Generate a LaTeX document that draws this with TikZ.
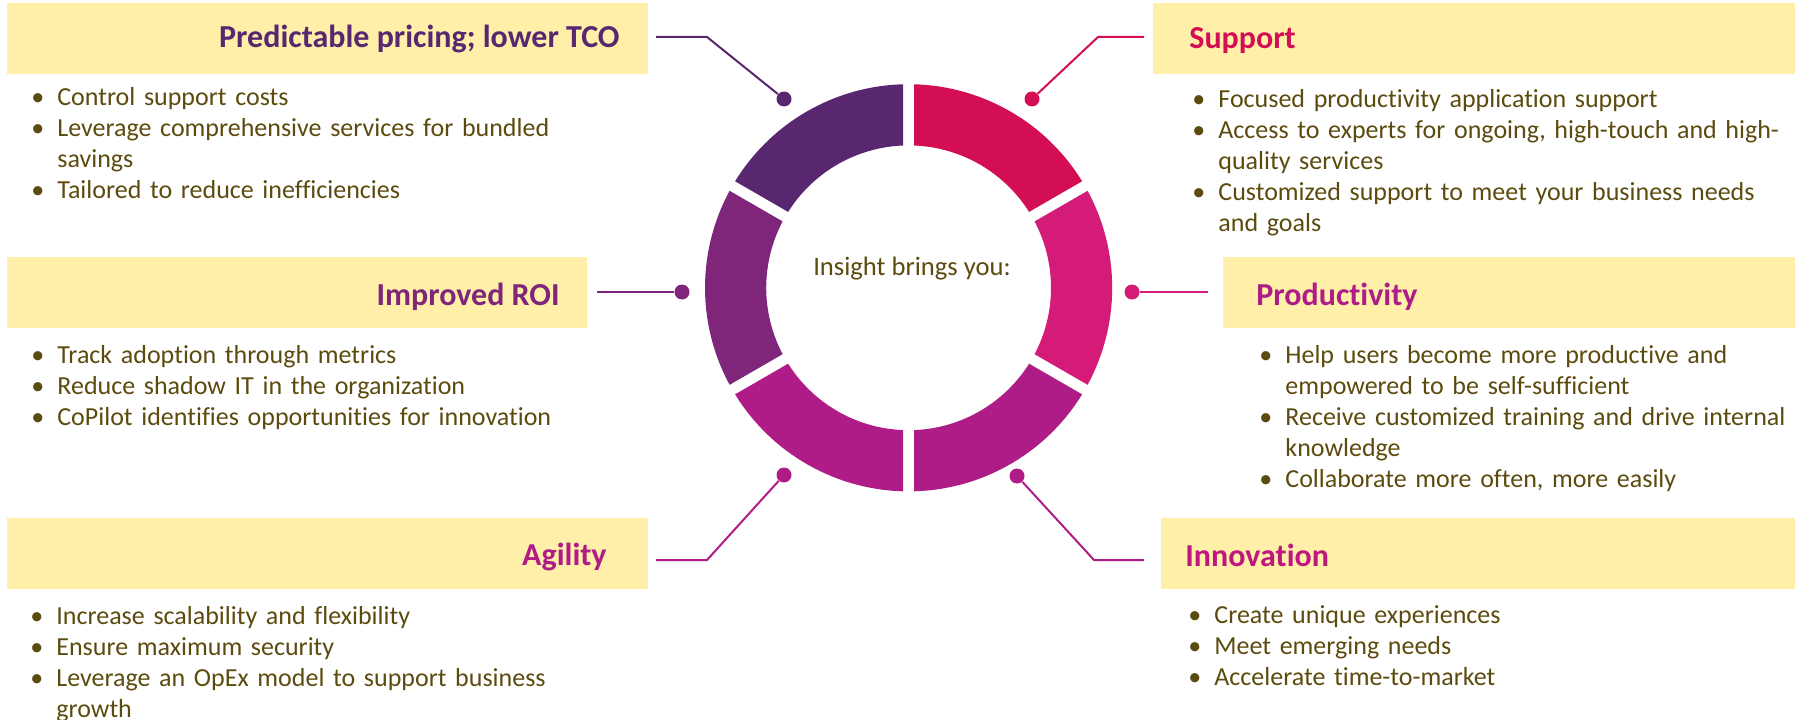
\documentclass[tikz,border=0pt]{standalone}
\usepackage{fontspec}
\setmainfont{Carlito}[Ligatures=NoCommon]
\usepackage{xcolor}

\definecolor{bandyellow}{HTML}{FFEFA8}
\definecolor{bodytext}{HTML}{5C4B0E}
\definecolor{tlc}{HTML}{58276F}
\definecolor{trc}{HTML}{D40E55}
\definecolor{rc}{HTML}{D31B77}
\definecolor{brc}{HTML}{AE1D87}
\definecolor{blc}{HTML}{AF1C88}
\definecolor{lc}{HTML}{80267A}
\definecolor{innoc}{HTML}{BE177F}

\newcommand{\itm}[1]{\noindent\hangindent=13pt\hangafter=1\makebox[13pt][l]{\textbullet}\strut#1\par}

\tikzset{
  band/.style={fill=bandyellow, inner sep=0pt, minimum height=35.5pt, anchor=south west},
  headline/.style={text=#1, font=\fontsize{16}{19}\selectfont\bfseries, inner sep=0pt},
  blist/.style={text=bodytext, font=\fontsize{13}{15.5}\selectfont, inner sep=0pt,
    text width=300pt, align=left, anchor=north west, yshift=10.8pt},
  knob/.style={circle, fill=#1, inner sep=0pt, minimum size=7.5pt},
  wire/.style={draw=#1, line width=1pt}
}

\begin{document}
\begin{tikzpicture}[x=1pt,y=1pt]
\useasboundingbox (0,0) rectangle (898.5,359.5);

% ring
\begin{scope}[shift={(454.3,215.6)}]
\foreach \a/\c in {90/tlc, 30/trc, -30/rc, -90/brc, -150/blc, 150/lc} {
  \fill[\c] (\a+1.55:101.8pt) arc[start angle=\a+1.55, end angle=\a+58.45, radius=101.8pt]
    -- (\a+57.79:71.2pt) arc[start angle=\a+57.79, end angle=\a+2.21, radius=71.2pt] -- cycle;
}
\end{scope}
\node[text=bodytext, font=\fontsize{13.3}{16}\selectfont, inner sep=0pt, anchor=base] (hub) at (456,222) {Insight brings you:};

% boxes
\node[band, minimum width=320.5pt] (bTL) at (3.5,322.5) {};
\node[band, minimum width=321pt] (bTR) at (576.5,322.5) {};
\node[band, minimum width=290pt] (bL) at (3.5,195.5) {};
\node[band, minimum width=286pt] (bR) at (611.5,195.5) {};
\node[band, minimum width=320.5pt] (bBL) at (3.5,65) {};
\node[band, minimum width=317pt] (bBR) at (580.5,65) {};

% titles
\node[headline=tlc, anchor=base east] (tTL) at (310,335.5) {Predictable pricing; lower TCO};
\node[headline=trc, anchor=base west] (tTR) at (594.5,335) {Support};
\node[headline=lc, anchor=base east] (tL) at (280,207) {Improved ROI};
\node[headline=brc, anchor=base west] (tR) at (628,207) {Productivity};
\node[headline=blc, anchor=base east] (tBL) at (303.5,77) {Agility};
\node[headline=innoc, anchor=base west] (tBR) at (592.5,76.5) {Innovation};

% connectors
\node[knob=tlc] (dTL) at (392,310) {};
\node[knob=trc] (dTR) at (516,310) {};
\node[knob=lc] (dL) at (341,213.5) {};
\node[knob=rc] (dR) at (566,213.5) {};
\node[knob=blc] (dBL) at (392,122) {};
\node[knob=brc] (dBR) at (508.5,121.5) {};
\coordinate (eTL) at (353.5,341);
\coordinate (hTL) at (328,341);
\coordinate (eTR) at (549,341);
\coordinate (hTR) at (572,341);
\coordinate (hL) at (298.5,213.5);
\coordinate (hR) at (604,213.5);
\coordinate (eBL) at (353.5,79.5);
\coordinate (hBL) at (328,79.5);
\coordinate (eBR) at (547,79.5);
\coordinate (hBR) at (572,79.5);
\draw[wire=tlc] (dTL) -- (eTL) -- (hTL);
\draw[wire=trc] (dTR) -- (eTR) -- (hTR);
\draw[wire=lc] (dL) -- (hL);
\draw[wire=rc] (dR) -- (hR);
\draw[wire=blc] (dBL) -- (eBL) -- (hBL);
\draw[wire=brc] (dBR) -- (eBR) -- (hBR);

% bullet lists
\node[blist] (lTL) at (15.5,307) {%
  \itm{Control support costs}
  \itm{Leverage comprehensive services for bundled\newline savings}
  \itm{Tailored to reduce inefficiencies}};
\node[blist] (lTR) at (596,306) {%
  \itm{Focused productivity application support}
  \itm{Access to experts for ongoing, high-touch and high-\newline quality services}
  \itm{Customized support to meet your business needs\newline and goals}};
\node[blist] (lL) at (15.5,178) {%
  \itm{Track adoption through metrics}
  \itm{Reduce shadow IT in the organization}
  \itm{CoPilot identifies opportunities for innovation}};
\node[blist] (lR) at (629.5,178) {%
  \itm{Help users become more productive and\newline empowered to be self-sufficient}
  \itm{Receive customized training and drive internal\newline knowledge}
  \itm{Collaborate more often, more easily}};
\node[blist] (lBL) at (15,47.6) {%
  \itm{Increase scalability and flexibility}
  \itm{Ensure maximum security}
  \itm{Leverage an OpEx model to support business\newline growth}};
\node[blist] (lBR) at (594,48) {%
  \itm{Create unique experiences}
  \itm{Meet emerging needs}
  \itm{Accelerate time-to-market}};
\end{tikzpicture}
\end{document}
